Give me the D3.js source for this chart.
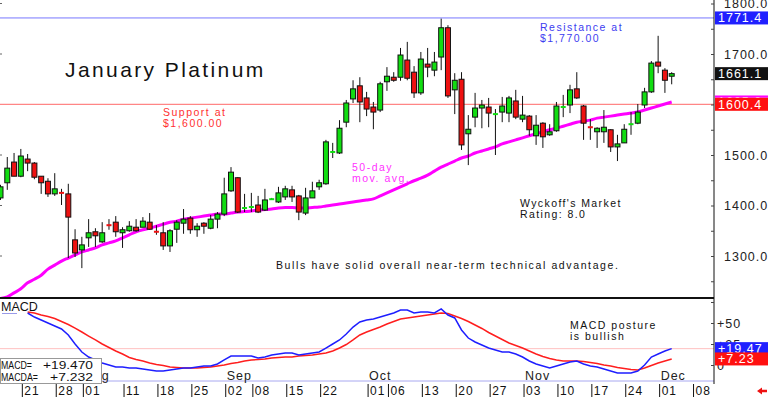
<!DOCTYPE html>
<html>
<head>
<meta charset="utf-8">
<script src="https://cdn.jsdelivr.net/npm/d3@7"></script>
<style>
  body { margin: 0; background: #fff; }
  svg { display: block; font-family: "Liberation Sans", Arial, sans-serif; }
</style>
</head>
<body>
<div id="chart"></div>
<script>
// daily candles (oldest first)
var opens = [1415,1445,1486,1458,1492,1484,1458,1448,1423,1427,
  1423,1332,1312,1336,1348,1328,1362,1367,1346,1350,
  1357,1357,1367,1349,1346,1320,1353,1365,1375,1352,
  1365,1355,1373,1383,1429,1455,1393,1395,1401,1391,
  1412,1407,1417,1431,1419,1385,1415,1437,1443,1505,
  1504,1565,1611,1637,1613,1595,1589,1645,1654,1654,
  1688,1664,1623,1680,1668,1694,1752,1629,1650,1542,
  1575,1593,1595,1580,1585,1583,1607,1571,1577,1538,
  1563,1540,1548,1594,1599,1631,1597,1556,1546,1546,
  1550,1516,1524,1559,1563,1599,1625,1684,1668,1656];
var highs = [1441,1496,1504,1512,1502,1486,1458,1454,1464,1433,
  1443,1353,1338,1373,1355,1367,1373,1379,1357,1369,
  1373,1377,1385,1361,1367,1353,1371,1393,1379,1365,
  1367,1381,1387,1455,1476,1456,1423,1425,1419,1433,
  1415,1437,1439,1439,1421,1435,1447,1451,1530,1524,
  1569,1609,1648,1654,1625,1605,1645,1674,1664,1712,
  1724,1676,1704,1712,1704,1770,1757,1662,1664,1579,
  1623,1609,1613,1591,1615,1617,1629,1617,1579,1579,
  1565,1561,1605,1619,1639,1664,1599,1571,1555,1589,
  1551,1540,1561,1585,1601,1633,1686,1736,1672,1664];
var lows = [1411,1431,1458,1456,1468,1452,1423,1417,1419,1401,
  1296,1298,1276,1318,1318,1326,1352,1338,1316,1348,
  1348,1357,1352,1342,1312,1308,1326,1344,1344,1338,
  1344,1353,1355,1379,1427,1385,1387,1387,1385,1389,
  1411,1405,1411,1407,1371,1381,1415,1431,1441,1494,
  1502,1555,1603,1565,1577,1551,1585,1627,1645,1647,
  1648,1613,1619,1654,1656,1668,1613,1581,1510,1480,
  1555,1553,1555,1500,1565,1565,1571,1565,1538,1520,
  1514,1538,1546,1575,1583,1611,1530,1530,1514,1524,
  1506,1488,1524,1540,1561,1593,1623,1662,1623,1640];
var closes = [1437,1474,1458,1498,1484,1456,1445,1423,1433,1423,
  1377,1306,1322,1346,1340,1346,1360,1348,1352,1359,
  1350,1369,1353,1347,1320,1350,1367,1373,1352,1359,
  1359,1373,1383,1423,1466,1387,1397,1399,1387,1411,
  1413,1425,1433,1417,1387,1415,1429,1445,1526,1507,
  1553,1603,1631,1605,1591,1585,1641,1656,1648,1698,
  1652,1623,1690,1674,1684,1752,1617,1648,1520,1551,
  1593,1599,1583,1582,1597,1613,1575,1579,1550,1559,
  1536,1546,1597,1596,1629,1613,1563,1554,1553,1555,
  1516,1522,1551,1563,1585,1625,1682,1676,1648,1661.1];

// 50-day moving average
var ma50 = [1216,1219,1227,1235,1247,1254,1262,1274,1282,1290,
  1296,1302,1308,1312,1316,1322,1326,1330,1336,1342,
  1348,1352,1355,1359,1363,1367,1369,1373,1375,1377,
  1379,1381,1383,1383,1385,1387,1388,1389,1391,1392,
  1393,1395,1396,1396,1395,1395,1396,1397,1399,1401,
  1403,1405,1407,1409,1411,1413,1419,1425,1431,1437,
  1443,1449,1454,1460,1468,1476,1482,1488,1494,1498,
  1504,1508,1512,1516,1522,1526,1530,1534,1538,1542,
  1546,1550,1553,1557,1561,1565,1567,1569,1573,1575,
  1577,1579,1581,1583,1585,1589,1593,1597,1601,1605];

// MACD and its signal line, starting at candle 4
var macdStart = 4;
var macdLine = [61.9,57.1,53.6,50,46.4,42.9,35.7,25,15.5,9.5,
  6,2.4,0,-2.4,-2.4,-3.6,-3.6,-4.8,-6,-7.1,
  -7.1,-6,-4.8,-3.6,-3.6,-2.4,-1.2,-1.2,1.2,6,
  10.7,10.7,10.7,10.7,8.3,9.5,11.9,13.1,14.3,14.3,
  11.9,13.1,14.3,15.5,20.2,25,29.8,36.9,45.2,51.2,
  53.6,54.8,57.1,59.5,61.9,65.5,65.5,61.9,63.1,63.1,
  61.9,66.7,59.5,56,41.7,32.1,27.4,23.8,20.2,17.9,
  15.5,15.5,13.1,9.5,4.8,1.2,-1.2,-3.6,-1.2,1.2,
  3.6,4.8,1.2,-1.2,-2.4,-4.8,-7.1,-9.5,-9.5,-9.5,
  -7.1,0,9.5,13.1,16.7,19.47];
var macdSignal = [63.1,61.9,59.5,57.7,55.4,51.8,48.2,44,39.3,34.5,
  29.8,25,20.8,16.7,13.1,8.9,6.5,4.8,2.4,0.6,
  -0.6,-2.4,-3,-3.6,-3.6,-3.6,-3,-2.4,-1.2,0,
  1.8,3,4.8,6,6.5,7.1,8.3,8.9,9.5,9.5,
  10.7,11.3,11.9,13.1,14.3,16.7,20.2,24.4,29.8,35.7,
  39.3,42.3,45.2,48.8,51.8,54.8,56,57.1,58.3,59.5,
  60.7,61.9,61.3,58.3,55.4,51.8,47.6,43.5,38.7,34.5,
  30.4,26.2,23.2,20.2,16.7,13.1,10.1,7.7,6,4.8,
  4.8,4.8,4.2,3,1.8,0,-1.2,-3,-4.2,-5.4,
  -6,-3.6,-0.6,2.4,4.8,7.232];

// date axis (candle index of each tick)
var tickIdx = [3,8,12,18,23,28,33,37,42,47,54,57,62,67,72,77,82,87,92,97,102];
var tickDays = ["21","28","01","11","18","25","02","08","15","22","01","06","13","20","27","03","10","17","24","01","08"];
var monthIdx = [12,33,54,77,97];
var monthNames = ["Aug","Sep","Oct","Nov","Dec"];

// 1600.0 sits under the value flags, so it is not labelled
var priceTicks = [1300,1400,1500,1700,1800];
var macdTicks = [0,25,50];
var resistance = 1771.4;
var support = 1600.4;

var svgWidth = 768, svgHeight = 397;
var plotRight = 714;
var mainBottom = 298;

var svg = d3.select("#chart").append("svg")
  .attr("width", svgWidth)
  .attr("height", svgHeight);

var x = d3.scaleLinear().domain([0, 99]).range([0.5, 671.7]);
var y = d3.scaleLinear().domain([1300, 1800]).range([256, 3.5]);
var yM = d3.scaleLinear().domain([0, 50]).range([365, 323]);

var defs = svg.append("defs");
defs.append("clipPath").attr("id", "clipMain")
  .append("rect").attr("x", 0).attr("y", 0).attr("width", plotRight).attr("height", mainBottom);
defs.append("clipPath").attr("id", "clipMacd")
  .append("rect").attr("x", 0).attr("y", 299).attr("width", plotRight).attr("height", 82);

var mainG = svg.append("g").attr("clip-path", "url(#clipMain)");

// support / resistance
mainG.append("line")
  .attr("x1", 0).attr("x2", plotRight)
  .attr("y1", y(resistance)).attr("y2", y(resistance))
  .attr("stroke", "#7878ff").attr("stroke-width", 1);
mainG.append("line")
  .attr("x1", 0).attr("x2", plotRight)
  .attr("y1", y(support)).attr("y2", y(support))
  .attr("stroke", "#ff6868").attr("stroke-width", 1);

// moving average
var maLine = d3.line().x((d, i) => x(i)).y(d => y(d)).curve(d3.curveMonotoneX);
mainG.append("path")
  .datum(ma50)
  .attr("d", maLine)
  .attr("fill", "none")
  .attr("stroke", "#ff00ff")
  .attr("stroke-width", 3);

// candles
var candles = d3.range(opens.length).map(function(i) {
  return { i: i, o: opens[i], h: highs[i], l: lows[i], c: closes[i] };
});
function bodyH(d) { return y(Math.min(d.o, d.c)) - y(Math.max(d.o, d.c)); }

mainG.selectAll(".wick")
  .data(candles)
  .enter()
  .append("line")
  .attr("x1", d => x(d.i)).attr("x2", d => x(d.i))
  .attr("y1", d => y(d.h)).attr("y2", d => y(d.l))
  .attr("stroke", "#111").attr("stroke-width", 1);

mainG.selectAll(".body")
  .data(candles)
  .enter()
  .append("rect")
  .attr("x", d => x(d.i) - 2.5)
  .attr("width", 5)
  .attr("y", function(d) {
    var top = y(Math.max(d.o, d.c)), h = bodyH(d);
    return h < 2.5 ? (top + h / 2 - 1) : top;
  })
  .attr("height", d => bodyH(d) < 2.5 ? 2 : bodyH(d))
  .attr("fill", d => d.c >= d.o ? "#11dd11" : "#ee1111")
  .attr("stroke", d => bodyH(d) < 2.5 ? "none" : "#111")
  .attr("stroke-width", 1);

// separator between panels
svg.append("line")
  .attr("x1", 0).attr("x2", plotRight)
  .attr("y1", mainBottom).attr("y2", mainBottom)
  .attr("stroke", "#111").attr("stroke-width", 2);

// left edge marks
svg.selectAll(".lmark")
  .data([1300, 1400, 1500, 1700, 1800])
  .enter()
  .append("line")
  .attr("x1", 0).attr("x2", 2)
  .attr("y1", d => y(d)).attr("y2", d => y(d))
  .attr("stroke", "#666");

// annotations
function note(lines, xPos, yPos, color, size, spacing) {
  var t = svg.append("text")
    .attr("x", xPos).attr("y", yPos)
    .attr("fill", color)
    .style("font-size", size + "px")
    .style("letter-spacing", spacing + "px");
  lines.forEach(function(s, k) {
    t.append("tspan").attr("x", xPos).attr("dy", k === 0 ? 0 : 11).text(s);
  });
  return t;
}

svg.append("text")
  .attr("x", 65).attr("y", 77)
  .style("font-size", "21px")
  .style("letter-spacing", "2.4px")
  .attr("fill", "#111")
  .text("January Platinum");

note(["Support at", "$1,600.00"], 163, 116, "#ff3030", 10.5, 1.5);
note(["Resistance at", "$1,770.00"], 540, 31, "#3c3cf0", 10.5, 1.5);
note(["50-day", "mov. avg."], 352, 171, "#ff33ff", 10.5, 1.5);
note(["Wyckoff's Market", "Rating: 8.0"], 520, 207, "#111", 10.5, 1.4);
note(["Bulls have solid overall near-term technical advantage."], 276, 269, "#111", 10.5, 1.62);
note(["MACD posture", "is bullish"], 570, 329, "#111", 10.5, 1.5);

// MACD panel
var macdG = svg.append("g").attr("clip-path", "url(#clipMacd)");
macdG.append("line")
  .attr("x1", 0).attr("x2", plotRight)
  .attr("y1", yM(macdLine[macdLine.length - 1])).attr("y2", yM(macdLine[macdLine.length - 1]))
  .attr("stroke", "#ffc0c0").attr("stroke-width", 1);

var mLine = d3.line().x((d, i) => x(i + macdStart)).y(d => yM(d));
macdG.append("path")
  .datum(macdSignal)
  .attr("d", mLine)
  .attr("fill", "none")
  .attr("stroke", "#ff1e1e")
  .attr("stroke-width", 1.5);
macdG.append("path")
  .datum(macdLine)
  .attr("d", mLine)
  .attr("fill", "none")
  .attr("stroke", "#1e1eff")
  .attr("stroke-width", 1.5);

svg.append("text")
  .attr("x", 1).attr("y", 311)
  .style("font-size", "12.5px")
  .attr("fill", "#111")
  .text("MACD");
svg.append("line")
  .attr("x1", 2).attr("x2", 17).attr("y1", 313.5).attr("y2", 313.5)
  .attr("stroke", "#9a9ae8");

// bottom lavender line
svg.append("line")
  .attr("x1", 0).attr("x2", plotRight)
  .attr("y1", 381).attr("y2", 381)
  .attr("stroke", "#a8a8f0").attr("stroke-width", 1);

// month names
svg.selectAll(".month")
  .data(monthIdx)
  .enter()
  .append("text")
  .attr("x", d => x(d) + 2.5)
  .attr("y", 380)
  .style("font-size", "12.5px")
  .style("letter-spacing", "1px")
  .attr("fill", "#222")
  .text((d, i) => monthNames[i]);

// MACD value box
svg.append("rect")
  .attr("x", 0.5).attr("y", 358.5).attr("width", 101).attr("height", 25)
  .attr("fill", "#fff").attr("stroke", "#999");
function boxText(str, xPos, yPos, len) {
  svg.append("text").attr("x", xPos).attr("y", yPos)
    .attr("textLength", len).attr("lengthAdjust", "spacingAndGlyphs")
    .style("font-size", "11.5px").attr("fill", "#111")
    .text(str);
}
boxText("MACD=", 1, 369, 31);
boxText("MACDA=", 1, 381, 37);
boxText("+" + d3.format(".3f")(macdLine[macdLine.length - 1]), 43, 369, 50);
boxText("+" + d3.format(".3f")(macdSignal[macdSignal.length - 1]), 50, 381, 43);

// date axis
var dateAxis = d3.axisBottom(x)
  .tickValues(tickIdx)
  .tickSize(13)
  .tickFormat((d, i) => tickDays[i]);
var dateG = svg.append("g")
  .attr("transform", "translate(1,384)")
  .call(dateAxis);
dateG.select(".domain").remove();
dateG.selectAll(".tick line").attr("stroke", "#111");
dateG.selectAll(".tick text")
  .attr("x", 2).attr("y", 10.5).attr("dy", 0)
  .style("text-anchor", "start")
  .style("font-size", "12px")
  .style("letter-spacing", "1px")
  .style("font-family", "'Liberation Sans', Arial, sans-serif")
  .attr("fill", "#111");

// right axis line
svg.append("line")
  .attr("x1", plotRight).attr("x2", plotRight)
  .attr("y1", 0).attr("y2", 384)
  .attr("stroke", "#111").attr("stroke-width", 1);

// price axis: small ticks and labels
var minorG = svg.append("g")
  .attr("transform", "translate(" + plotRight + ",0)")
  .call(d3.axisLeft(y).tickValues(d3.range(1250, 1850, 50)).tickSize(3).tickFormat(""));
minorG.select(".domain").remove();
minorG.selectAll("line").attr("stroke", "#444");

var priceG = svg.append("g")
  .attr("transform", "translate(" + plotRight + ",0)")
  .call(d3.axisRight(y).tickValues(priceTicks).tickSize(0).tickFormat(d3.format(".1f")));
priceG.select(".domain").remove();
priceG.selectAll("text")
  .attr("x", 10)
  .style("font-size", "12.5px")
  .style("letter-spacing", "1px")
  .style("font-family", "'Liberation Sans', Arial, sans-serif")
  .attr("fill", "#222");

// MACD axis
var macdMinor = svg.append("g")
  .attr("transform", "translate(" + plotRight + ",0)")
  .call(d3.axisLeft(yM).tickValues([0, 25, 50, 75]).tickSize(3).tickFormat(""));
macdMinor.select(".domain").remove();
macdMinor.selectAll("line").attr("stroke", "#444");

var macdAxisG = svg.append("g")
  .attr("transform", "translate(" + plotRight + ",0)")
  .call(d3.axisRight(yM).tickValues(macdTicks).tickSize(0).tickFormat(d => d > 0 ? "+" + d : String(d)));
macdAxisG.select(".domain").remove();
macdAxisG.selectAll("text")
  .attr("x", 3)
  .style("font-size", "12.5px")
  .style("letter-spacing", "1px")
  .style("font-family", "'Liberation Sans', Arial, sans-serif")
  .attr("fill", "#222");

// value flags on the right
function flag(yPos, label, bg, clipId) {
  var g = svg.append("g");
  if (clipId) g.attr("clip-path", "url(#" + clipId + ")");
  g.append("rect")
    .attr("x", plotRight + 1).attr("y", yPos - 6.5)
    .attr("width", svgWidth - plotRight).attr("height", 13)
    .attr("fill", bg);
  g.append("text")
    .attr("x", plotRight + 4).attr("y", yPos + 4.5)
    .style("font-size", "12.5px")
    .style("letter-spacing", "1px")
    .attr("fill", "#fff")
    .text(label);
}
var fmt1 = d3.format(".1f");
// the moving-average flag sits mostly under the support flag
defs.append("clipPath").attr("id", "clipMaFlag")
  .append("rect").attr("x", plotRight).attr("y", 0)
  .attr("width", svgWidth - plotRight).attr("height", y(support) - 6.5);

flag(y(resistance), fmt1(resistance), "#2020ff");
flag(y(closes[closes.length - 1]), fmt1(closes[closes.length - 1]), "#111");
flag(y(ma50[ma50.length - 1]), fmt1(ma50[ma50.length - 1]), "#ff00ff", "clipMaFlag");
flag(y(support), fmt1(support), "#ff1010");
flag(yM(macdLine[macdLine.length - 1]), "+" + d3.format(".2f")(macdLine[macdLine.length - 1]), "#2020ff");
flag(yM(macdSignal[macdSignal.length - 1]), "+" + d3.format(".2f")(macdSignal[macdSignal.length - 1]), "#ff1010");

// little red arrow bottom right
svg.append("path")
  .attr("d", "M757,391 L762,387.5 L762,389.8 L767,389.8 L767,392.2 L762,392.2 L762,394.5 Z")
  .attr("fill", "#ee1111");
</script>
</body>
</html>
